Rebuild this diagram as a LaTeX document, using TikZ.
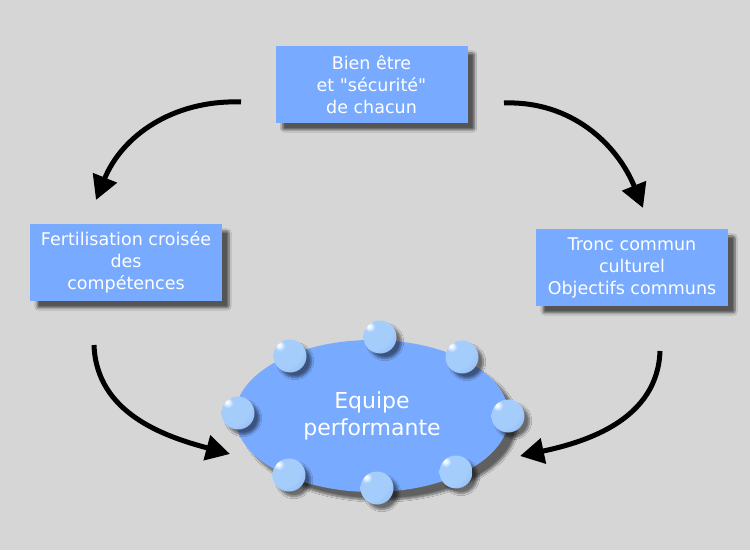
\documentclass[tikz,border=0pt]{standalone}
\usepackage{fontspec}
\setmainfont{DejaVu Sans}
\usetikzlibrary{arrows.meta,shadows.blur,shapes.geometric}
\definecolor{bg}{RGB}{214,214,214}
\definecolor{boxblue}{RGB}{120,170,255}
\definecolor{ballhi}{RGB}{235,245,255}
\definecolor{balllight}{RGB}{165,205,252}
\definecolor{ballmid}{RGB}{130,175,235}
\definecolor{balldark}{RGB}{85,125,190}
\pgfdeclareradialshading{myball}{\pgfpoint{-17bp}{17bp}}{%
  color(0bp)=(white); color(3bp)=(ballhi); color(8bp)=(balllight); color(30bp)=(balllight);
  color(55bp)=(ballmid); color(75bp)=(balldark); color(100bp)=(balldark)}
\tikzset{
  infobox/.style={draw=none,fill=boxblue,text=white,align=center,minimum width=192pt,minimum height=77pt,inner sep=0pt,
    font=\fontsize{17.5}{22}\selectfont,
    blur shadow={shadow xshift=7pt,shadow yshift=-7pt,shadow blur steps=8,shadow blur extra rounding=2pt,shadow opacity=60}},
  teamell/.style={ellipse,draw=none,fill=boxblue,text=white,align=center,minimum width=274pt,minimum height=152pt,inner sep=0pt,
    font=\fontsize{22}{27}\selectfont,
    blur shadow={shadow xshift=8pt,shadow yshift=-8pt,shadow blur steps=10,shadow opacity=55}},
  sphere/.style={circle,minimum size=33pt,inner sep=0pt,shading=myball,
    blur shadow={shadow xshift=5pt,shadow yshift=-5pt,shadow blur steps=6,shadow opacity=50}},
  flow/.style={line width=5pt,-{Triangle[length=24pt,width=25pt]}}
}
\begin{document}
\begin{tikzpicture}[x=1pt,y=1pt]
\fill[bg] (0,0) rectangle (750,550);
\useasboundingbox (0,0) rectangle (750,550);
\node[infobox] (top) at (371.5,465.5) {Bien être\\et \textquotedbl sécurité\textquotedbl\\de chacun};
\node[infobox] (left) at (126,287.5) {Fertilisation croisée\\des\\compétences};
\node[infobox] (right) at (632,282.5) {Tronc commun\\culturel\\Objectifs communs};
\node[teamell] (team) at (372,134) {Equipe\\performante};
\foreach \n/\p in {b1/{(380,213)},b2/{(290,194)},b3/{(462,193)},b4/{(238,137)},b5/{(508,134)},b6/{(289,75)},b7/{(377,62)},b8/{(456,78)}}
  \node[sphere] (\n) at \p {};
\coordinate (a1s) at (241,448);
\coordinate (a1e) at (96,350);
\coordinate (a2s) at (504,447);
\coordinate (a2e) at (643,342);
\coordinate (a3s) at (94,205);
\coordinate (a3e) at (230,96);
\coordinate (a4s) at (660,199);
\coordinate (a4e) at (520,94);
\draw[flow] (a1s) to[out=178,in=68] (a1e);
\draw[flow] (a2s) to[out=2,in=112] (a2e);
\draw[flow] (a3s) to[out=-88,in=165] (a3e);
\draw[flow] (a4s) to[out=-92,in=12] (a4e);
\end{tikzpicture}
\end{document}
